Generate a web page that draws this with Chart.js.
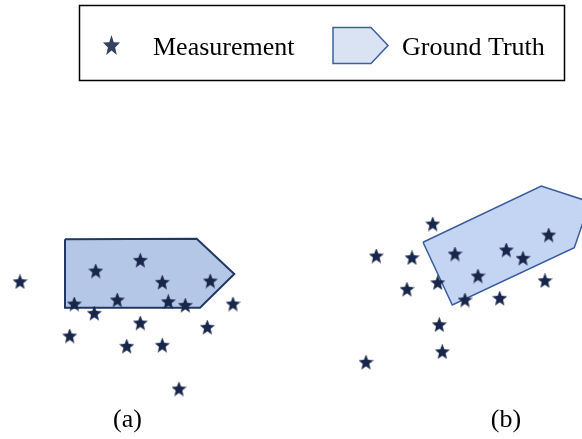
<!DOCTYPE html>
<html>
<head>
<meta charset="utf-8">
<title>Measurement vs Ground Truth</title>
<script src="https://cdn.jsdelivr.net/npm/chart.js@4.4.0/dist/chart.umd.min.js"></script>
<style>
    html, body { margin: 0; padding: 0; background: #fff; }
    #wrap { width: 582px; height: 439px; }
</style>
</head>
<body>
<div id="wrap"><canvas id="chart" width="582" height="439"></canvas></div>
<script>
// measurements, panel (a)
const measAX = [20, 95.7, 140.3, 162.3, 210.3, 74.3, 117.3, 168.3, 185.3, 233, 94.3, 140.3, 207.3, 69.7, 126.7, 162.3, 179];
const measAY = [281.7, 271, 260.3, 282.3, 281, 304, 300, 301.7, 305.3, 304, 313.3, 323, 327.3, 336, 346.3, 345.3, 389];
// measurements, panel (b)
const measBX = [432.7, 376.3, 412, 455, 506.3, 523, 548.7, 478, 437.7, 407, 465, 499.7, 545, 439.3, 442.3, 366];
const measBY = [224, 256, 257.7, 254, 250, 258.3, 235, 276, 282.7, 289.3, 300, 298.3, 280.7, 324.7, 351.7, 362.3];
// ground truth outlines
const truthAX = [65, 196.7, 234.3, 200, 65, 65];
const truthAY = [239.3, 238.7, 274, 307.7, 307.7, 239.3];
const truthBX = [423, 541.3, 590, 574.3, 452.3, 423];
const truthBY = [242.3, 186, 202, 247.7, 305, 242.3];

const legendLabels = ['Measurement', 'Ground Truth'];
const panelLabels = ['(a)', '(b)'];
const panelLabelX = [127.5, 506];

const starColor = '#17264a';
const serif = '"Liberation Serif", "Times New Roman", serif';

function starPath(ctx, cx, cy, rx, ry, inner) {
    ctx.beginPath();
    for (let i = 0; i < 10; i++) {
        const a = -Math.PI / 2 + i * Math.PI / 5;
        const k = i % 2 === 0 ? 1 : inner;
        const px = cx + Math.cos(a) * rx * k;
        const py = cy + Math.sin(a) * ry * k;
        if (i === 0) ctx.moveTo(px, py); else ctx.lineTo(px, py);
    }
    ctx.closePath();
}

function makeStar(w, h, color) {
    const c = document.createElement('canvas');
    c.width = w;
    c.height = h;
    const g = c.getContext('2d');
    g.fillStyle = color;
    starPath(g, w / 2, h * 0.53, w / 2 / 0.951, h / 2 / 0.905, 0.44);
    g.fill();
    return c;
}

const starImg = makeStar(15, 15, starColor);

function pts(xs, ys) {
    return xs.map((x, i) => ({ x: x, y: ys[i] }));
}

// legend frame, icons, text and the panel captions
const decorPlugin = {
    id: 'decor',
    afterDraw(chart) {
        const ctx = chart.ctx;
        const xs = chart.scales.x;
        ctx.save();
        ctx.strokeStyle = '#000';
        ctx.lineWidth = 1.5;
        ctx.strokeRect(79.5, 5.5, 485, 75);

        ctx.fillStyle = '#34425e';
        starPath(ctx, 111.5, 46, 9, 11, 0.42);
        ctx.fill();

        ctx.beginPath();
        ctx.moveTo(333, 27.5);
        ctx.lineTo(371, 27.5);
        ctx.lineTo(388, 45.5);
        ctx.lineTo(371, 63.5);
        ctx.lineTo(333, 63.5);
        ctx.closePath();
        ctx.fillStyle = '#dae3f3';
        ctx.fill();
        ctx.strokeStyle = '#3d5f9e';
        ctx.lineWidth = 1.5;
        ctx.stroke();

        ctx.fillStyle = '#000';
        ctx.font = '26px ' + serif;
        ctx.textBaseline = 'alphabetic';
        ctx.textAlign = 'left';
        ctx.fillText(legendLabels[0], 153, 55);
        ctx.fillText(legendLabels[1], 402, 55);

        ctx.textAlign = 'center';
        panelLabels.forEach((t, i) => {
            ctx.fillText(t, xs.getPixelForValue(panelLabelX[i]), 427);
        });
        ctx.restore();
    }
};

new Chart(document.getElementById('chart').getContext('2d'), {
    type: 'scatter',
    data: {
        datasets: [
            {
                label: 'Measurement (a)',
                data: pts(measAX, measAY),
                pointStyle: starImg,
                order: 1
            },
            {
                label: 'Measurement (b)',
                data: pts(measBX, measBY),
                pointStyle: starImg,
                order: 1
            },
            {
                label: 'Ground Truth (a)',
                data: pts(truthAX, truthAY),
                showLine: true,
                fill: 'shape',
                backgroundColor: '#b4c7e7',
                borderColor: '#1f3864',
                borderWidth: 2,
                pointRadius: 0,
                tension: 0,
                order: 2
            },
            {
                label: 'Ground Truth (b)',
                data: pts(truthBX, truthBY),
                showLine: true,
                fill: 'shape',
                backgroundColor: '#c3d5f2',
                borderColor: '#3a5c9c',
                borderWidth: 1.5,
                pointRadius: 0,
                tension: 0,
                order: 2
            }
        ]
    },
    options: {
        responsive: false,
        animation: false,
        layout: { padding: 0, autoPadding: false },
        plugins: {
            legend: { display: false },
            tooltip: { enabled: false }
        },
        scales: {
            x: { type: 'linear', min: 0, max: 582, display: false },
            y: { type: 'linear', min: 0, max: 439, reverse: true, display: false }
        }
    },
    plugins: [decorPlugin]
});
</script>
</body>
</html>
